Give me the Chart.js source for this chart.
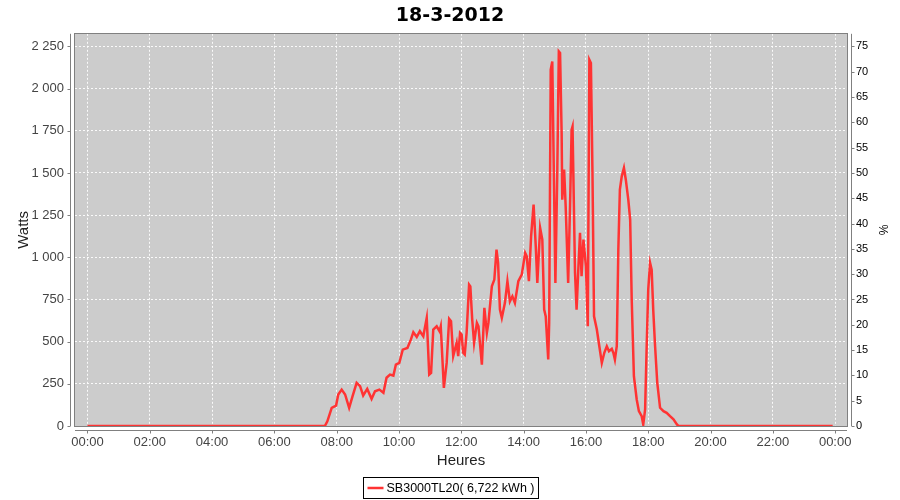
<!DOCTYPE html>
<html>
<head>
<meta charset="utf-8">
<script src="https://cdn.jsdelivr.net/npm/chart.js@4.4.0/dist/chart.umd.min.js"></script>
<style>
  html, body { margin: 0; padding: 0; background: #fff; }
</style>
</head>
<body>
<canvas id="chart" width="900" height="500"></canvas>
<script>
// production du 18-3-2012
const hours = [
  0.00, 7.62, 7.70, 7.84, 7.98, 8.05, 8.16, 8.27, 8.40, 8.51, 8.64, 8.75, 8.85, 8.98,
  9.12, 9.23, 9.37, 9.50, 9.60, 9.71, 9.82, 9.90, 10.01, 10.12, 10.27, 10.38, 10.46,
  10.57, 10.67, 10.78, 10.89, 10.97, 11.03, 11.10, 11.21, 11.30, 11.34, 11.44, 11.53,
  11.61, 11.67, 11.74, 11.85, 11.90, 11.96, 12.01, 12.06, 12.11, 12.17, 12.25, 12.29,
  12.35, 12.41, 12.50, 12.55, 12.66, 12.74, 12.82, 12.87, 12.98, 13.06, 13.13, 13.18,
  13.24, 13.30, 13.40, 13.48, 13.56, 13.64, 13.72, 13.83, 13.94, 14.05, 14.10, 14.17,
  14.24, 14.32, 14.39, 14.44, 14.53, 14.60, 14.66, 14.71, 14.79, 14.82, 14.87, 14.92,
  14.97, 15.02, 15.08, 15.13, 15.17, 15.22, 15.24, 15.30, 15.35, 15.43, 15.49, 15.54,
  15.57, 15.65, 15.70, 15.76, 15.81, 15.86, 15.92, 16.00, 16.06, 16.11, 16.16, 16.21,
  16.26, 16.35, 16.43, 16.51, 16.59, 16.67, 16.74, 16.83, 16.88, 16.93, 16.99, 17.04,
  17.09, 17.15, 17.22, 17.28, 17.36, 17.42, 17.47, 17.54, 17.63, 17.70, 17.79, 17.84,
  17.90, 17.95, 18.00, 18.06, 18.11, 18.16, 18.22, 18.29, 18.38, 18.49, 18.59, 18.70,
  18.81, 18.92, 18.97, 23.92
];
const watts = [
  0, 0, 28, 108, 121, 187, 216, 187, 108, 177, 256, 236, 181, 220,
  161, 206, 216, 197, 286, 305, 299, 364, 374, 453, 463, 512, 556,
  528, 562, 532, 641, 305, 315, 572, 591, 562, 591, 226, 374,
  635, 621, 414, 493, 414, 552, 542, 434, 424, 552, 838, 828,
  631, 493, 611, 591, 364, 700, 552, 611, 828, 868, 1046, 967,
  690, 641, 730, 858, 739, 769, 730, 858, 897, 1026, 1006, 858,
  1124, 1312, 1065, 848, 1174, 1105, 690, 650, 394, 611, 2112, 2161,
  1500, 848, 1500, 2220, 2211, 1737, 1342, 1520, 1302, 848, 1302, 1757,
  1776, 908, 690, 947, 1145, 888, 1105, 947, 591, 2171, 2151, 1500,
  650, 572, 473, 374, 434, 473, 443, 457, 434, 394, 473, 1046,
  1401, 1480, 1530, 1460, 1342, 1223, 749, 295, 157, 88, 58, 9,
  98, 473, 809, 967, 927, 690, 473, 256, 108, 88, 78, 58,
  39, 9, 0, 0
];

const hourTicks = [0, 2, 4, 6, 8, 10, 12, 14, 16, 18, 20, 22, 24];
const hourLabels = ['00:00', '02:00', '04:00', '06:00', '08:00', '10:00', '12:00',
  '14:00', '16:00', '18:00', '20:00', '22:00', '00:00'];
const wattTicks = [0, 250, 500, 750, 1000, 1250, 1500, 1750, 2000, 2250];
const wattLabels = ['0', '250', '500', '750', '1 000', '1 250', '1 500', '1 750', '2 000', '2 250'];
const percentTicks = [0, 5, 10, 15, 20, 25, 30, 35, 40, 45, 50, 55, 60, 65, 70, 75];
const seriesLabel = 'SB3000TL20( 6,722 kWh )';
const seriesColor = '#ff3333';

const points = hours.map((h, i) => ({ x: h, y: watts[i] }));

// fond du graphe, axes decales et legende encadree (style JFreeChart)
const plotFrame = {
  id: 'plotFrame',
  beforeDraw(chart) {
    const { ctx, chartArea: a } = chart;
    ctx.save();
    ctx.fillStyle = '#cccccc';
    ctx.fillRect(a.left, a.top, a.right - a.left, a.bottom - a.top);
    ctx.restore();
  },
  afterDatasetsDraw(chart) {
    const { ctx, chartArea: a, scales } = chart;
    ctx.save();
    ctx.lineWidth = 1;
    ctx.strokeStyle = '#808080';
    ctx.strokeRect(Math.round(a.left) - 0.5, Math.round(a.top) - 0.5,
      Math.round(a.right - a.left) + 1, Math.round(a.bottom - a.top) + 1);

    const lx = Math.round(a.left) - 4.5;
    const rx = Math.round(a.right) + 4.5;
    const by = Math.round(a.bottom) + 4.5;
    ctx.beginPath();
    ctx.moveTo(lx, a.top); ctx.lineTo(lx, a.bottom);
    ctx.moveTo(rx, a.top); ctx.lineTo(rx, a.bottom);
    ctx.moveTo(a.left, by); ctx.lineTo(a.right, by);
    wattTicks.forEach(v => {
      const y = Math.round(scales.y.getPixelForValue(v)) + 0.5;
      ctx.moveTo(lx - 3, y); ctx.lineTo(lx, y);
    });
    percentTicks.forEach(v => {
      const y = Math.round(scales.y2.getPixelForValue(v)) + 0.5;
      ctx.moveTo(rx, y); ctx.lineTo(rx + 3, y);
    });
    hourTicks.forEach(v => {
      const x = Math.round(scales.x.getPixelForValue(v)) + 0.5;
      ctx.moveTo(x, by); ctx.lineTo(x, by + 3);
    });
    ctx.stroke();
    ctx.restore();
  },
  afterDraw(chart) {
    const { ctx } = chart;
    ctx.save();
    ctx.font = '12.5px "Liberation Sans"';
    const tw = ctx.measureText(seriesLabel).width;
    const w = Math.round(4 + 16 + 3 + tw + 4);
    const x0 = Math.round(450 - w / 2) + 0.5;
    const y0 = 477.5, h = 21;
    ctx.strokeStyle = '#000';
    ctx.lineWidth = 1;
    ctx.strokeRect(x0, y0, w, h);
    ctx.strokeStyle = seriesColor;
    ctx.lineWidth = 2.5;
    ctx.beginPath();
    ctx.moveTo(x0 + 4, y0 + h / 2); ctx.lineTo(x0 + 20, y0 + h / 2);
    ctx.stroke();
    ctx.fillStyle = '#000';
    ctx.textBaseline = 'middle';
    ctx.fillText(seriesLabel, x0 + 23, y0 + h / 2 + 0.5);
    ctx.restore();
  }
};

const setTicks = (values) => (scale) => { scale.ticks = values.map(v => ({ value: v })); };

new Chart(document.getElementById('chart'), {
  type: 'line',
  data: {
    datasets: [{
      label: seriesLabel,
      data: points,
      borderColor: seriesColor,
      borderWidth: 2.5,
      pointRadius: 0,
      tension: 0,
      yAxisID: 'y'
    }]
  },
  options: {
    responsive: false,
    animation: false,
    layout: { padding: { left: 0, right: 0, top: 0, bottom: 30 } },
    plugins: {
      legend: { display: false },
      tooltip: { enabled: false },
      title: {
        display: true,
        text: '18-3-2012',
        color: '#000',
        font: { family: 'DejaVu Sans', size: 19, weight: 'bold' },
        padding: { top: 5, bottom: 6 }
      }
    },
    scales: {
      x: {
        type: 'linear',
        min: -0.4,
        max: 24.38,
        afterBuildTicks: setTicks(hourTicks),
        afterFit: (s) => { s.height = 44; },
        ticks: {
          autoSkip: false,
          maxRotation: 0,
          padding: 9,
          color: '#444',
          font: { family: 'Liberation Sans', size: 13 },
          callback: (v) => hourLabels[hourTicks.indexOf(v)]
        },
        grid: { color: 'rgba(255,255,255,0.9)', drawTicks: false },
        border: { display: false, dash: [2, 2] },
        title: {
          display: true,
          text: 'Heures',
          color: '#222',
          font: { family: 'Liberation Sans', size: 15 },
          padding: { top: 0, bottom: 0 }
        }
      },
      y: {
        position: 'left',
        min: 0,
        max: 2325,
        afterBuildTicks: setTicks(wattTicks),
        afterFit: (s) => { s.width = 75; },
        ticks: {
          padding: 11,
          color: '#444',
          font: { family: 'Liberation Sans', size: 13 },
          callback: (v) => wattLabels[wattTicks.indexOf(v)]
        },
        grid: { color: 'rgba(255,255,255,0.9)', drawTicks: false },
        border: { display: false, dash: [2, 2] },
        title: {
          display: true,
          text: 'Watts',
          color: '#222',
          font: { family: 'Liberation Sans', size: 15 },
          padding: { top: 15, bottom: 0 }
        }
      },
      y2: {
        position: 'right',
        min: 0,
        max: 77.5,
        afterBuildTicks: setTicks(percentTicks),
        afterFit: (s) => { s.width = 53; },
        ticks: {
          padding: 9,
          color: '#000',
          font: { family: 'Liberation Sans', size: 11 }
        },
        grid: { display: false, drawTicks: false },
        border: { display: false },
        title: {
          display: true,
          text: '%',
          color: '#000',
          font: { family: 'Liberation Sans', size: 12 },
          padding: { top: 10, bottom: 0 }
        }
      }
    }
  },
  plugins: [plotFrame]
});
</script>
</body>
</html>
